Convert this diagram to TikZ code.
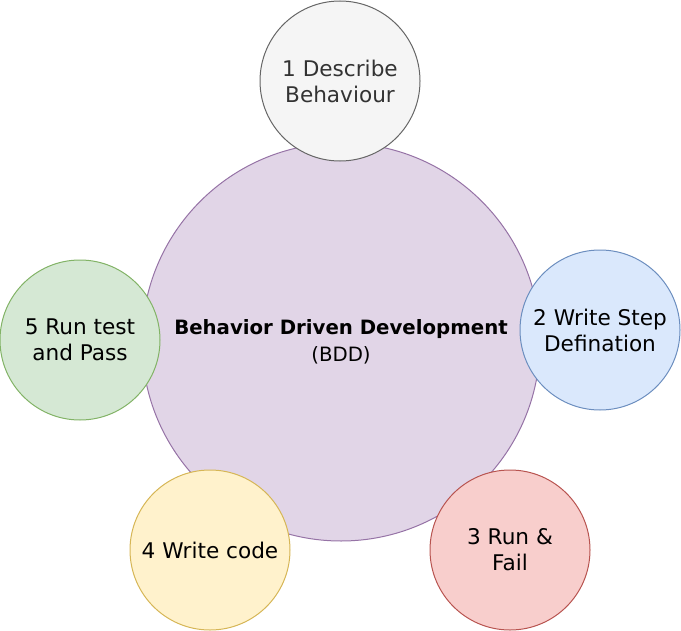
\documentclass[tikz,border=0pt]{standalone}
\usepackage{fontspec}
\setmainfont{DejaVu Sans}
\definecolor{grayfill}{HTML}{F5F5F5}
\definecolor{grayline}{HTML}{666666}
\definecolor{graytext}{HTML}{333333}
\definecolor{purplefill}{HTML}{E1D5E7}
\definecolor{purpleline}{HTML}{9673A6}
\definecolor{bluefill}{HTML}{DAE8FC}
\definecolor{blueline}{HTML}{6C8EBF}
\definecolor{redfill}{HTML}{F8CECC}
\definecolor{redline}{HTML}{B85450}
\definecolor{yellowfill}{HTML}{FFF2CC}
\definecolor{yellowline}{HTML}{D6B656}
\definecolor{greenfill}{HTML}{D5E8D4}
\definecolor{greenline}{HTML}{82B366}
\tikzset{
	stepc/.style={circle, draw, line width=0.75pt, minimum size=120pt, inner sep=0pt,
		align=center, font=\fontsize{16.2}{19.5}\selectfont},
	bigc/.style={circle, draw=purpleline, fill=purplefill, line width=0.75pt,
		minimum size=298.5pt, inner sep=0pt, align=center, font=\fontsize{14.8}{20}\selectfont}
}
\begin{document}
\begin{tikzpicture}[x=0.75pt, y=-0.75pt]
	\useasboundingbox (0,0) rectangle (681,631);
	\draw (341,342) node[bigc] (bdd) {\textbf{Behavior Driven Development}\\(BDD)};
	
	\draw (340, 81) node[stepc, draw=grayline, fill=grayfill, text=graytext] (s1) {1 Describe\\Behaviour};
	\draw (600,330) node[stepc, draw=blueline, fill=bluefill] (s2) {2 Write Step\\Defination};
	\draw (510,550) node[stepc, draw=redline, fill=redfill] (s3) {3 Run \&\\Fail};
	\draw (210,550) node[stepc, draw=yellowline, fill=yellowfill] (s4) {4 Write code};
	\draw ( 80,340) node[stepc, draw=greenline, fill=greenfill] (s5) {5 Run test\\and Pass};
\end{tikzpicture}
\end{document}
